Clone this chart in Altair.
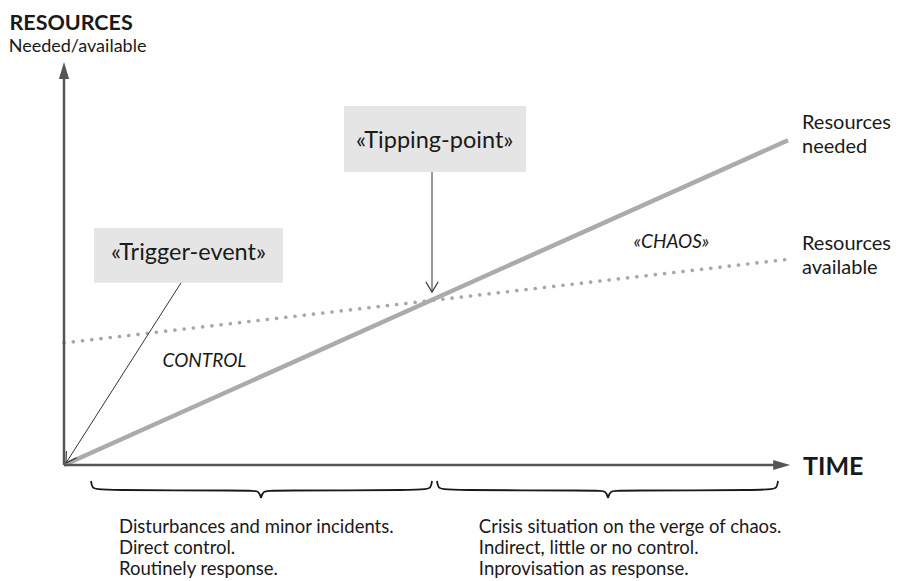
import math
import altair as alt
import pandas as pd

# ---------------- data (time units 0-100, resource units 0-100) ----------------
needed_time = [0, 100]
needed_vals = [0, 80.6]
available_time = [0, 100.3]
available_vals = [30.3, 51.1]

# annotation boxes: label, t0, t1, r_top, r_bottom
box_labels = ["«Trigger-event»", "«Tipping-point»"]
box_t0 = [4.14, 38.67]
box_t1 = [30.25, 63.81]
box_rtop = [58.8, 89.1]
box_rbot = [45.2, 72.7]
box_text_t = [17.2, 51.2]
box_text_r = [50.9, 78.7]

# pointer arrows: start (t, r) -> tip (t, r)
arrow_t0 = [16.16, 50.83]
arrow_r0 = [45.2, 72.7]
arrow_t1 = [0.28, 50.83]
arrow_r1 = [0.5, 42.9]

# braces: start, tip, end (time) and vertical levels
brace_start = [3.73, 51.52]
brace_tip = [27.21, 75.14]
brace_end = [50.83, 98.62]
brace_levels = [-3.97, -5.7, -6.3, -6.45, -8.2]  # end, near-end, flat, near-tip, tip

# axis extents
axis_t_end = 100.3
axis_r_end = 100.0

# region labels
region_labels = ["CONTROL", "«CHAOS»"]
region_t = [19.4, 83.9]
region_r = [24.3, 53.9]

# series labels at the right
series_lines = ["Resources", "needed", "Resources", "available"]
series_t = [101.93, 101.93, 101.93, 101.93]
series_r = [83.4, 77.4, 53.4, 47.4]

# bottom descriptions
desc_left = ["Disturbances and minor incidents.", "Direct control.", "Routinely response."]
desc_right = ["Crisis situation on the verge of chaos.", "Indirect, little or no control.", "Inprovisation as response."]
desc_t = [7.6, 57.3]
desc_r = [-16.9, -22.1, -27.2]

# ---------------- scales ----------------
W, H = 886, 573
PX_T, PX_R = 7.24, 4.03
OX, OY = 56, 457
T_MIN, T_MAX = -OX / PX_T, (W - OX) / PX_T
R_MIN, R_MAX = -(H - OY) / PX_R, OY / PX_R
xs = alt.Scale(domain=[T_MIN, T_MAX], nice=False, zero=False)
ys = alt.Scale(domain=[R_MIN, R_MAX], nice=False, zero=False)

FONT = "Lato"
TXT = "#1a1a1a"
GREY = "#ababab"
AX = "#555555"


def X(f, **kw):
    return alt.X(f, type="quantitative", scale=xs, axis=None, **kw)


def Y(f, **kw):
    return alt.Y(f, type="quantitative", scale=ys, axis=None, **kw)


# boxes
boxes = pd.DataFrame({"t0": box_t0, "t1": box_t1, "rt": box_rtop, "rb": box_rbot})
box_layer = alt.Chart(boxes).mark_rect(fill="#e5e5e5").encode(
    x=X("t0"), x2="t1", y=Y("rt"), y2="rb")

# lines
needed = pd.DataFrame({"t": needed_time, "r": needed_vals})
avail = pd.DataFrame({"t": available_time, "r": available_vals})
needed_layer = alt.Chart(needed).mark_line(color=GREY, strokeWidth=4.5).encode(x=X("t"), y=Y("r"))
avail_layer = alt.Chart(avail).mark_line(
    color="#a8a8a8", strokeWidth=3.6, strokeDash=[0.1, 9.2], strokeCap="round"
).encode(x=X("t"), y=Y("r"))

# axes
tri_len_t = 15 / PX_T
tri_len_r = 15 / PX_R
axes = pd.DataFrame({
    "t": [0, 0], "r": [0, 0],
    "t2": [axis_t_end - tri_len_t, 0], "r2": [0, axis_r_end - tri_len_r],
})
axis_layer = alt.Chart(axes).mark_rule(color=AX, strokeWidth=2.5).encode(
    x=X("t"), y=Y("r"), x2="t2", y2="r2")
heads = pd.DataFrame({
    "t": [axis_t_end, 0], "r": [0, axis_r_end],
    "shape": ["M0,0L-1,-0.3L-1,0.3Z", "M0,0L0.3,1L-0.3,1Z"],
    "size": [1156, 1156],
})
head_layer = alt.Chart(heads).mark_point(filled=True, opacity=1, color=AX, strokeWidth=0).encode(
    x=X("t"), y=Y("r"), shape=alt.Shape("shape:N", scale=None), size=alt.Size("size:Q", scale=None))

# pointer arrows
arr = pd.DataFrame({"t0": arrow_t0, "r0": arrow_r0, "t1": arrow_t1, "r1": arrow_r1})
arr["angle"] = [
    math.degrees(math.atan2((a - b) * PX_T, (c - d) * PX_R))
    for a, b, c, d in zip(arrow_t0, arrow_t1, arrow_r0, arrow_r1)
]
arr["shape"] = "M-0.6,-1L0,0L0.6,-1"
arr_layer = alt.Chart(arr).mark_rule(color="#333333", strokeWidth=1).encode(
    x=X("t0"), y=Y("r0"), x2="t1", y2="r1")
chev_layer = alt.Chart(arr).mark_point(filled=False, opacity=1, color="#333333", strokeWidth=1.1, size=420).encode(
    x=X("t1"), y=Y("r1"), shape=alt.Shape("shape:N", scale=None), angle=alt.Angle("angle:Q", scale=None))

# braces
rows = []
for k, (s, m, e) in enumerate(zip(brace_start, brace_tip, brace_end)):
    le, lne, lf, lnt, lt = brace_levels
    half1 = [(s, le), (s + 1 / PX_T, lne), (s + 7 / PX_T, lf), (m - 9 / PX_T, lf), (m - 2 / PX_T, lnt), (m, lt)]
    half2 = [(m, lt), (m + 2 / PX_T, lnt), (m + 9 / PX_T, lf), (e - 7 / PX_T, lf), (e - 1 / PX_T, lne), (e, le)]
    for h, half in enumerate([half1, half2]):
        for i, (t, r) in enumerate(half):
            rows.append({"seg": f"{k}-{h}", "i": i, "t": t, "r": r})
braces = pd.DataFrame(rows)
brace_layer = alt.Chart(braces).mark_line(color="#1a1a1a", strokeWidth=1.8, interpolate="basis").encode(
    x=X("t"), y=Y("r"), detail="seg:N", order="i:Q")


def text_layer(df, size, **kw):
    return alt.Chart(df).mark_text(font=FONT, fontSize=size, color=TXT, baseline="alphabetic", **kw).encode(
        x=X("t"), y=Y("r"), text="label:N")


box_txt = text_layer(pd.DataFrame({"label": box_labels, "t": box_text_t, "r": box_text_r}), 23.5, align="center")
region_txt = text_layer(pd.DataFrame({"label": region_labels, "t": region_t, "r": region_r}), 19,
                        align="center", fontStyle="italic")
series_txt = text_layer(pd.DataFrame({"label": series_lines, "t": series_t, "r": series_r}), 20, align="left")
time_txt = text_layer(pd.DataFrame({"label": ["TIME"], "t": [102.07], "r": [-2.48]}), 25, align="left",
                      fontWeight="bold")
res_txt = text_layer(pd.DataFrame({"label": ["RESOURCES"], "t": [T_MIN + 0.2], "r": [108.06]}), 21.5,
                     align="left", fontWeight="bold")
sub_txt = text_layer(pd.DataFrame({"label": ["Needed/available"], "t": [T_MIN + 0.1], "r": [102.5]}), 18,
                     align="left")
desc = pd.DataFrame({
    "label": desc_left + desc_right,
    "t": [desc_t[0]] * 3 + [desc_t[1]] * 3,
    "r": desc_r * 2,
})
desc_txt = text_layer(desc, 18.5, align="left")

chart = alt.layer(
    box_layer, avail_layer, needed_layer, axis_layer, head_layer, arr_layer, chev_layer, brace_layer,
    box_txt, region_txt, series_txt, time_txt, res_txt, sub_txt, desc_txt,
).properties(
    width=W, height=H, padding=0, autosize=alt.AutoSizeParams(type="none"), background="white"
).configure_view(stroke=None)

chart.save("out.html", embed_options={"renderer": "svg", "actions": False})
